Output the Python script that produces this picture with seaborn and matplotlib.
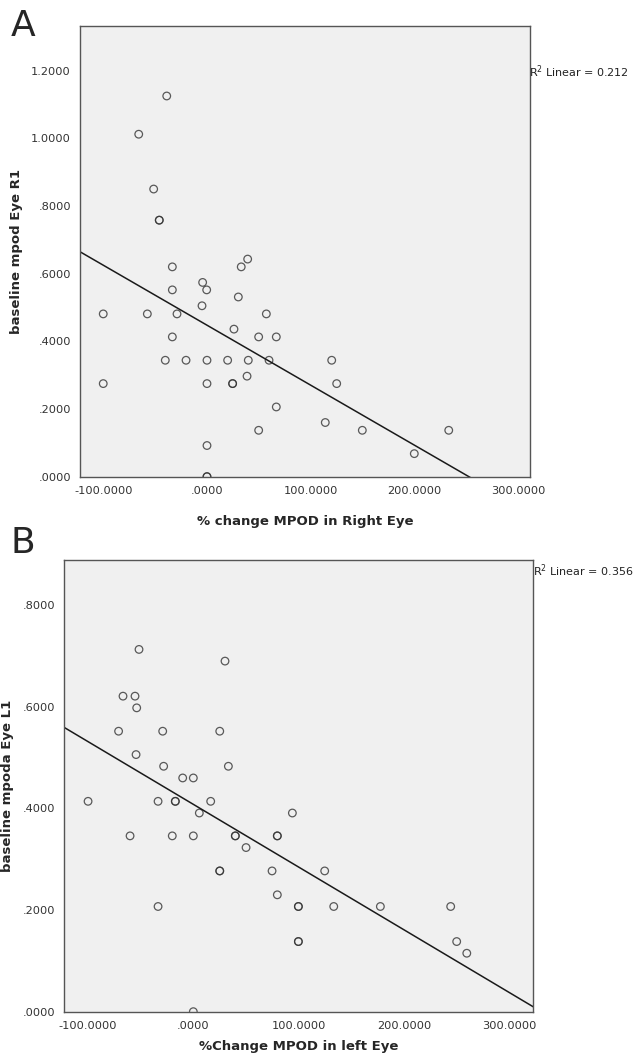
import numpy as np
import pandas as pd
import matplotlib
matplotlib.use("Agg")
import matplotlib.pyplot as plt
import seaborn as sns

# panel A: % change MPOD right eye vs baseline mpod R1
right_change = [-38.8, -65.8, -51.4, -46.0, -46.0, -33.4, 33.0, 39.2, -33.4, -4.2,
                -0.3, 30.2, -100.0, -57.5, -28.9, -4.8, 57.2, 26.0, -33.4, 49.8,
                66.8, -40.2, -20.2, 0.0, 19.9, 39.8, 59.8, 120.2, 38.6, -100.0,
                0.0, 24.7, 24.7, 125.0, 66.8, 114.0, 49.8, 0.0, 0.0, 0.0,
                149.7, 233.0, 199.8]
right_base = [1.125, 1.012, 0.850, 0.758, 0.758, 0.620, 0.620, 0.643, 0.552, 0.574,
              0.552, 0.531, 0.481, 0.481, 0.481, 0.505, 0.481, 0.436, 0.413, 0.413,
              0.413, 0.344, 0.344, 0.344, 0.344, 0.344, 0.344, 0.344, 0.297, 0.275,
              0.275, 0.275, 0.275, 0.275, 0.206, 0.160, 0.137, 0.092, 0.0, 0.0,
              0.137, 0.137, 0.068]

# panel B: % change MPOD left eye vs baseline mpoda L1
left_change = [-51.6, 30.1, -66.8, -55.4, -53.8, -71.0, -29.1, 25.1, -54.4, -28.2,
               33.3, -10.1, 0.0, -100.0, -33.5, -17.1, -17.1, 16.5, 5.7, 94.1,
               -60.1, -20.0, 0.0, 39.9, 39.9, 79.8, 79.8, 50.1, 25.1, 25.1,
               74.8, 124.8, 79.8, -33.5, 99.8, 99.8, 133.4, 99.8, 99.8, 0.0,
               177.7, 244.5, 250.2, 259.8]
left_base = [0.713, 0.690, 0.621, 0.621, 0.598, 0.552, 0.552, 0.552, 0.506, 0.483,
             0.483, 0.460, 0.460, 0.414, 0.414, 0.414, 0.414, 0.414, 0.391, 0.391,
             0.346, 0.346, 0.346, 0.346, 0.346, 0.346, 0.346, 0.323, 0.277, 0.277,
             0.277, 0.277, 0.230, 0.207, 0.207, 0.207, 0.207, 0.138, 0.138, 0.0,
             0.207, 0.207, 0.138, 0.115]

yticks_a = [0.0, 0.2, 0.4, 0.6, 0.8, 1.0, 1.2]
yticks_b = [0.0, 0.2, 0.4, 0.6, 0.8]
xticks = [-100, 0, 100, 200, 300]


def fmt(v):
    # SPSS style: 4 decimals, no leading zero
    s = f"{v:.4f}"
    if s.startswith("0."):
        s = s[1:]
    elif s.startswith("-0."):
        s = "-" + s[2:]
    return s


def draw_panel(ax, x, y, xlim, ylim, yticks, xlabel, ylabel, xpad):
    df = pd.DataFrame({"x": x, "y": y})
    ax.set_xlim(xlim)
    ax.set_ylim(ylim)
    sns.regplot(data=df, x="x", y="y", ax=ax, ci=None, truncate=False,
                scatter_kws=dict(s=30, facecolors="none", edgecolors="#333333",
                                 linewidths=0.9),
                line_kws=dict(color="#1a1a1a", linewidth=1.1))
    ax.set_xlim(xlim)
    ax.set_ylim(ylim)
    ax.set_facecolor("#f0f0f0")
    for sp in ax.spines.values():
        sp.set_visible(True)
        sp.set_color("#555555")
        sp.set_linewidth(1.0)
    ax.set_xticks(xticks)
    ax.set_xticklabels([fmt(v) for v in xticks])
    ax.set_yticks(yticks)
    ax.set_yticklabels([fmt(v) for v in yticks])
    ax.tick_params(axis="both", direction="out", length=5, width=1.0,
                   color="#333333", labelsize=8.2, labelcolor="#333333", pad=1.5)
    ax.tick_params(top=False, right=False)
    ax.set_xlabel(xlabel, fontsize=9.5, fontweight="bold", labelpad=xpad)
    ax.set_ylabel(ylabel, fontsize=9.5, fontweight="bold", labelpad=6)
    ax.grid(False)


sns.set_style("white")
plt.rcParams["font.family"] = ["DejaVu Sans"]

fig = plt.figure(figsize=(6.41, 10.59), dpi=100)
ax_a = fig.add_axes([0.1248, 0.5499, 0.7020, 0.4256])
ax_b = fig.add_axes([0.1006, 0.0447, 0.7314, 0.4265])

draw_panel(ax_a, right_change, right_base, (-122.4, 311.3), (0, 1.332), yticks_a,
           "% change MPOD in Right Eye", "baseline mpod Eye R1", 14)
draw_panel(ax_b, left_change, left_base, (-122.4, 323.0), (0, 0.889), yticks_b,
           "%Change MPOD in left Eye", "baseline mpoda Eye L1", 7)

fig.text(529 / 641, 1 - 72 / 1059, "R$^2$ Linear = 0.212", fontsize=8.0,
         va="center", ha="left", color="#222222")
fig.text(533 / 641, 1 - 571 / 1059, "R$^2$ Linear = 0.356", fontsize=8.0,
         va="center", ha="left", color="#222222")

fig.text(11 / 641, 1 - 26 / 1059, "A", fontsize=26, va="center", ha="left")
fig.text(11 / 641, 1 - 543 / 1059, "B", fontsize=26, va="center", ha="left")

fig.savefig("out.png", dpi=100, facecolor="white")
